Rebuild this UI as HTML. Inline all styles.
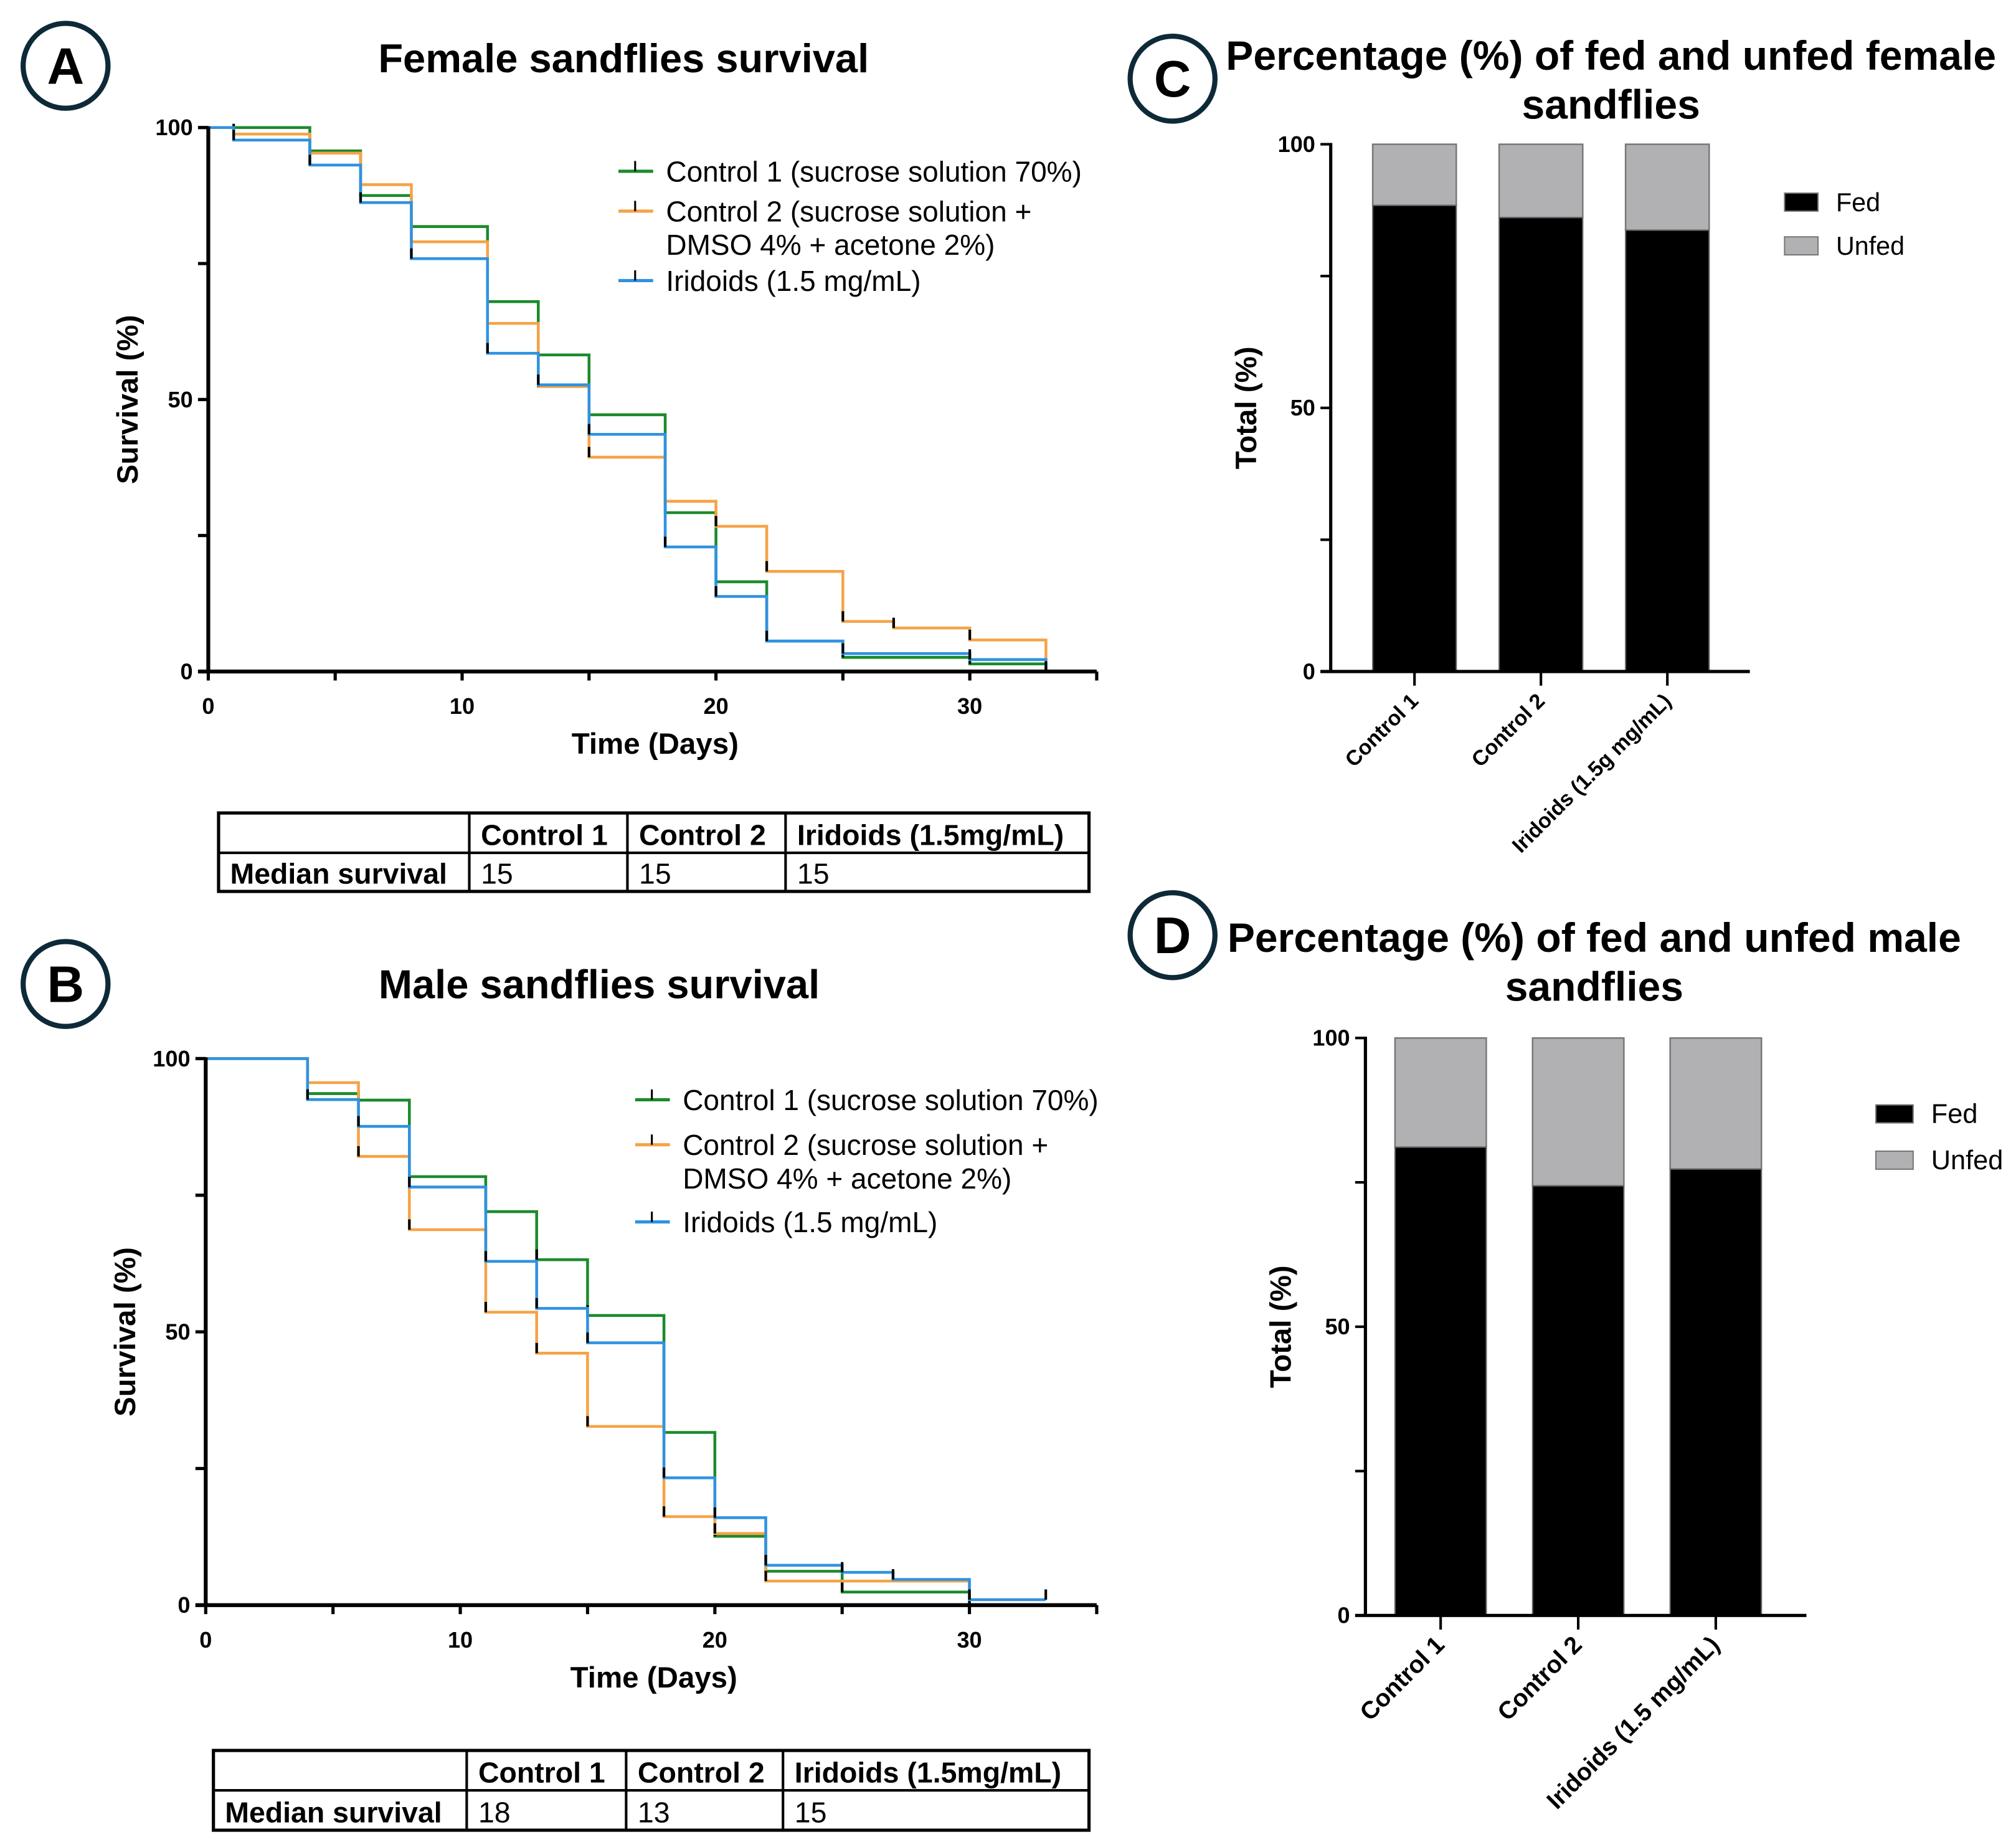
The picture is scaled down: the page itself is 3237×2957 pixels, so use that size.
<!DOCTYPE html>
<html><head><meta charset="utf-8">
<style>
html,body{margin:0;padding:0;background:#fff;}
svg{display:block;}
text{font-family:"Liberation Sans",Arial,sans-serif;}
</style></head>
<body>
<svg id="fig" xmlns="http://www.w3.org/2000/svg" width="3237" height="2957" viewBox="0 0 1568 1432">
<rect width="1568" height="1432" fill="#fff"/>
</svg>
<script>
// ---------- data ----------
const femaleC1 = [[0,100],[4,95.7],[6,87.5],[8,81.8],[11,68],[13,58.2],[15,47.2],[18,29.2],[20,16.5],[22,5.6],[25,2.6],[30,1.4],[33,0]];
const femaleC2 = [[0,100],[1,98.8],[4,95.3],[6,89.5],[8,79],[11,64],[13,52.4],[15,39.4],[18,31.3],[20,26.7],[22,18.4],[25,9.2],[27,8],[30,5.8],[33,0]];
const femaleIr = [[0,100],[1,97.7],[4,93.1],[6,86.2],[8,75.9],[11,58.5],[13,52.7],[15,43.6],[18,22.9],[20,13.8],[22,5.6],[25,3.3],[30,2.2],[33,0]];
const maleC1 = [[0,100],[4,93.6],[6,92.4],[8,78.4],[11,72],[13,63.2],[15,53],[18,31.6],[20,12.6],[22,6.2],[25,2.4],[30,0]];
const maleC2 = [[0,100],[4,95.6],[6,82.1],[8,68.7],[11,53.6],[13,46.1],[15,32.7],[18,16.2],[20,13.1],[22,4.4],[30,0]];
const maleIr = [[0,100],[4,92.5],[6,87.6],[8,76.5],[11,62.9],[13,54.3],[15,48],[18,23.3],[20,16],[22,7.3],[25,6],[27,4.7],[30,1],[33,1]];
const xTickLabels = ["0","10","20","30"];
const yTickLabels = ["0","50","100"];
const barCats = ["Control 1","Control 2","Iridoids (1.5g mg/mL)"];
const barCatsD = ["Control 1","Control 2","Iridoids (1.5 mg/mL)"];
const fedFemale = [88.4,86.1,83.7];
const fedMale = [81.1,74.4,77.3];
const medianFemale = ["15","15","15"];
const medianMale = ["18","13","15"];

const NS="http://www.w3.org/2000/svg";
const svg=document.getElementById('fig');
function mk(tag,attrs,parent,txt){const e=document.createElementNS(NS,tag);for(const k in attrs)e.setAttribute(k,attrs[k]);if(txt!==undefined)e.textContent=txt;(parent||svg).appendChild(e);return e;}

function badge(cx,cy,letter,name){
  const g=mk('g',{});
  
  
  mk('circle',{cx:cx,cy:cy,r:33,fill:'none',stroke:'#0e2a38','stroke-width':4},g);
  mk('text',{x:cx,y:cy+14,'text-anchor':'middle','font-size':40,'font-weight':'bold'},g,letter);
}

function survival(opt){
  const g=mk('g',{});
  
  
  const X=d=>opt.x0+(opt.x1-opt.x0)*d/35;
  const Y=v=>opt.yb+(opt.yt-opt.yb)*v/100;
  const t=mk('text',{x:opt.titleX,y:opt.titleY,'text-anchor':'middle','font-size':31.5,'font-weight':'bold'},g,opt.title);
  
  const series=[[opt.c1,'#1b8a2c','control-1-curve'],[opt.c2,'#f5a347','control-2-curve'],[opt.ir,'#3092e0','iridoids-curve']];
  series.forEach(s=>{
    const d=s[0];let p='M'+X(d[0][0])+','+Y(d[0][1]);
    for(let i=1;i<d.length;i++){p+=' H'+X(d[i][0])+' V'+Y(d[i][1]);}
    const path=mk('path',{d:p,fill:'none',stroke:s[1],'stroke-width':2.2},g);
    
    for(let i=1;i<d.length;i++){
      const tk=mk('line',{x1:X(d[i][0]),x2:X(d[i][0]),y1:Y(d[i][1]),y2:Y(d[i][1])-8,stroke:'#000','stroke-width':2},g);
      
    }
  });
  const ya=mk('line',{x1:opt.x0,x2:opt.x0,y1:opt.yt-1,y2:opt.yb+1,stroke:'#000','stroke-width':3},g);
  
  const xa=mk('line',{x1:opt.x0-8,x2:opt.x1,y1:opt.yb,y2:opt.yb,stroke:'#000','stroke-width':3},g);
  
  for(let d=0;d<=35;d+=5){mk('line',{x1:X(d),x2:X(d),y1:opt.yb,y2:opt.yb+7,stroke:'#000','stroke-width':2.5},g);}
  xTickLabels.forEach(l=>{const e=mk('text',{x:X(+l),y:opt.yb+33,'text-anchor':'middle','font-size':17.5,'font-weight':'bold'},g,l);
    });
  for(let v=0;v<=100;v+=25){mk('line',{x1:opt.x0-8,x2:opt.x0,y1:Y(v),y2:Y(v),stroke:'#000','stroke-width':2.5},g);}
  yTickLabels.forEach(l=>{const e=mk('text',{x:opt.x0-12,y:Y(+l)+6,'text-anchor':'end','font-size':17.5,'font-weight':'bold'},g,l);
    });
  const xt=mk('text',{x:(opt.x0+opt.x1)/2+2,y:opt.yb+64,'text-anchor':'middle','font-size':23,'font-weight':'bold'},g,'Time (Days)');
  
  const yc=(opt.yt+opt.yb)/2;
  const yt=mk('text',{x:opt.x0-55,y:yc,'text-anchor':'middle','font-size':23,'font-weight':'bold',transform:'rotate(-90 '+(opt.x0-55)+' '+yc+')'},g,'Survival (%)');
  
  const lg=mk('g',{},g);
  const L=opt.leg;
  [[L.y[0],'#1b8a2c','Control 1 (sucrose solution 70%)'],[L.y[1],'#f5a347','Control 2 (sucrose solution +'],[L.y[3],'#3092e0','Iridoids (1.5 mg/mL)']].forEach((r,i)=>{
    const e=mk('g',{},lg);
    mk('line',{x1:L.x,x2:L.x+27,y1:r[0],y2:r[0],stroke:r[1],'stroke-width':2.5},e);
    mk('line',{x1:L.x+13,x2:L.x+13,y1:r[0],y2:r[0]-8,stroke:'#000','stroke-width':1.5},e);
    mk('text',{x:L.x+37,y:r[0]+8,'font-size':22.3},e,r[2]);
  });
  mk('text',{x:L.x+37,y:L.y[2]+8,'font-size':22.3},lg,'DMSO 4% + acetone 2%)');
  const T=opt.tbl;const tg=mk('g',{},g);
  mk('rect',{x:T.x0,y:T.y0,width:T.x1-T.x0,height:T.y1-T.y0,fill:'none',stroke:'#000','stroke-width':2.5},tg);
  mk('line',{x1:T.x0,x2:T.x1,y1:T.ym,y2:T.ym,stroke:'#000','stroke-width':2},tg);
  T.cols.forEach(c=>mk('line',{x1:c,x2:c,y1:T.y0,y2:T.y1,stroke:'#000','stroke-width':2},tg));
  ['Control 1','Control 2','Iridoids (1.5mg/mL)'].forEach((h,i)=>mk('text',{x:T.cols[i]+9,y:T.y0+25,'font-size':22.5,'font-weight':'bold'},tg,h));
  mk('text',{x:T.x0+9,y:T.y1-6,'font-size':22.5,'font-weight':'bold'},tg,'Median survival');
  opt.med.forEach((m,i)=>mk('text',{x:T.cols[i]+9,y:T.y1-6,'font-size':22.5},tg,m));
}

function bars(opt){
  const g=mk('g',{});
  
  
  const Y=v=>opt.yb+(opt.yt-opt.yb)*v/100;
  opt.title.forEach((l,i)=>{const t=mk('text',{x:opt.titleX,y:opt.titleY[i],'text-anchor':'middle','font-size':32,'font-weight':'bold'},g,l);
    });
  const n=opt.cats.length;const step=(opt.barEnd-opt.barStart)/n;const bw=opt.bw;
  opt.fed.forEach((v,i)=>{
    const cx=opt.barStart+step*(i+0.5);
    const u=mk('rect',{x:cx-bw/2,y:Y(100),width:bw,height:Y(v)-Y(100),fill:'#b1b1b4',stroke:'#777','stroke-width':1.2},g);
    
    const f=mk('rect',{x:cx-bw/2,y:Y(v),width:bw,height:Y(0)-Y(v),fill:'#000',stroke:'#666','stroke-width':1},g);
    
    mk('line',{x1:cx,x2:cx,y1:opt.yb,y2:opt.yb+11,stroke:'#000','stroke-width':2},g);
    const lx=cx+4,ly=opt.yb+24;
    const t=mk('text',{x:lx,y:ly,'text-anchor':'end','font-size':opt.fs,'font-weight':'bold',transform:'rotate(-45 '+lx+' '+ly+')'},g,opt.cats[i]);
    
  });
  const ya=mk('line',{x1:opt.x0,x2:opt.x0,y1:opt.yt-1,y2:opt.yb+1,stroke:'#000','stroke-width':2.5},g);
  
  const xa=mk('line',{x1:opt.x0-8,x2:opt.x1,y1:opt.yb,y2:opt.yb,stroke:'#000','stroke-width':2.5},g);
  
  for(let v=0;v<=100;v+=25)mk('line',{x1:opt.x0-8,x2:opt.x0,y1:Y(v),y2:Y(v),stroke:'#000','stroke-width':2},g);
  yTickLabels.forEach(l=>{const e=mk('text',{x:opt.x0-12,y:Y(+l)+6,'text-anchor':'end','font-size':17.5,'font-weight':'bold'},g,l);
    });
  const yc=(opt.yt+opt.yb)/2;const yx=opt.x0-58;
  const yt=mk('text',{x:yx,y:yc,'text-anchor':'middle','font-size':23,'font-weight':'bold',transform:'rotate(-90 '+yx+' '+yc+')'},g,'Total (%)');
  
  const L=opt.leg;const lg=mk('g',{},g);
  [['#000','Fed',0],['#b1b1b4','Unfed',1]].forEach(r=>{
    const e=mk('g',{},lg);
    const yy=L.y+r[2]*L.dy;
    mk('rect',{x:L.x,y:yy-7,width:L.w,height:14,fill:r[0],stroke:'#777','stroke-width':1},e);
    mk('text',{x:L.x+L.w+14,y:yy+7,'font-size':L.fs},e,r[1]);
  });
}

badge(51,51,'A','panel-a-badge');
survival({name:'female-survival-chart',x0:162,x1:853,yt:99,yb:522,title:'Female sandflies survival',titleX:485,titleY:56,
  c1:femaleC1,c2:femaleC2,ir:femaleIr,leg:{x:481,y:[133,164,190,218]},
  tbl:{x0:170,x1:847,y0:632,ym:663,y1:693,cols:[365,488,611]},med:medianFemale});
badge(51,765,'B','panel-b-badge');
survival({name:'male-survival-chart',x0:160,x1:853,yt:823,yb:1248,title:'Male sandflies survival',titleX:466,titleY:776,
  c1:maleC1,c2:maleC2,ir:maleIr,leg:{x:494,y:[855,890,916,950]},
  tbl:{x0:166,x1:847,y0:1361,ym:1392,y1:1423,cols:[363,487,609]},med:medianMale});
badge(912,61,'C','panel-c-badge');
bars({name:'female-fed-chart',x0:1035,x1:1361,yt:112,yb:522,title:['Percentage (%) of fed and unfed female','sandflies'],titleX:1253,titleY:[54,92],
  cats:barCats,fed:fedFemale,barStart:1051,barEnd:1346,bw:65,fs:16.5,leg:{x:1388,y:157,dy:34,w:26,fs:20}});
badge(912,727,'D','panel-d-badge');
bars({name:'male-fed-chart',x0:1062,x1:1405,yt:807,yb:1256,title:['Percentage (%) of fed and unfed male','sandflies'],titleX:1240,titleY:[740,778],
  cats:barCatsD,fed:fedMale,barStart:1067,barEnd:1388,bw:71,fs:19,leg:{x:1459,y:866,dy:36,w:29,fs:21}});
</script>
</body></html>
